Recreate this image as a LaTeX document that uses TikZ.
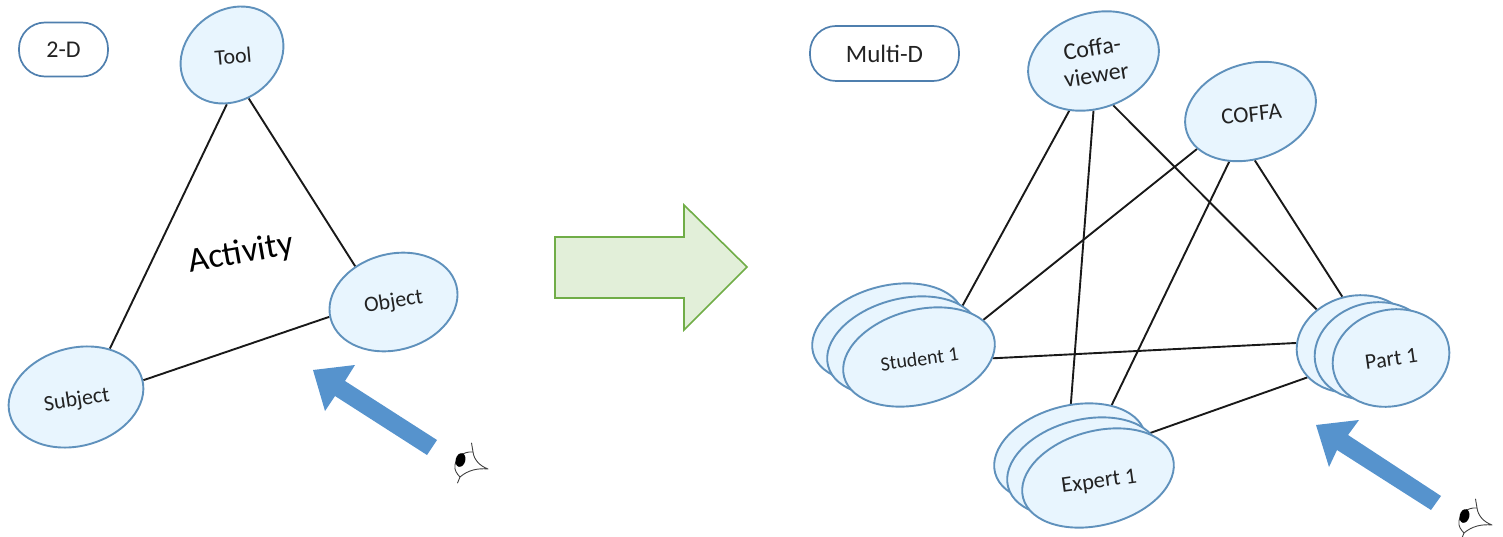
\documentclass[tikz,border=0pt]{standalone}
\usepackage{fontspec}
\setmainfont{Carlito}
\usetikzlibrary{shapes.geometric,backgrounds}
\definecolor{ellfill}{HTML}{E8F5FE}
\definecolor{ellline}{HTML}{5F91BC}
\definecolor{arrowblue}{HTML}{5693CD}
\definecolor{arrowgreen}{HTML}{E2EFD9}
\definecolor{arrowgreenline}{HTML}{70AD47}
\definecolor{inktext}{HTML}{222222}
\definecolor{tagline}{HTML}{4F7FAE}
\newcommand{\fsz}[1]{\fontsize{#1}{#1}\selectfont}
\newcommand{\tilt}[3]{\raisebox{#2}[\height][\depth]{\rotatebox{#1}{#3}}}
\tikzset{
  oval/.style={ellipse,draw=ellline,fill=ellfill,line width=1.9pt,inner sep=0pt,text=inktext,font=\fsz{22}},
  tag/.style={draw=tagline,line width=1.7pt,text=inktext,inner sep=0pt},
  link/.style={black!90,line width=1.9pt},
  blockarrow/.style={fill=arrowblue,draw=none},
  biglabel/.style={inner sep=0pt,text=black,font=\fsz{35}},
  eyeline/.style={black!75,line width=0.9pt,line cap=round,line join=round},
  eyepic/.pic={
    \draw[eyeline] (473,452) .. controls (463,451) and (456,458) .. (455,465) .. controls (454,470) and (457,474) .. (460,477) -- (457.5,483);
    \draw[eyeline] (471.5,443) -- (473,452) .. controls (474,460) and (480,466) .. (488,469) .. controls (478,468) and (468,470) .. (460,477);
    \fill[black] (460.5,460) ellipse [x radius=4.8pt,y radius=7pt,rotate=-15];
  }
}
\begin{document}
\begin{tikzpicture}[x=1pt,y=-1pt]
\useasboundingbox (0,0) rectangle (1503,537);
% left triangle
\node[oval,minimum width=109pt,minimum height=90pt,rotate=36] (tool) at (232,55) {\tilt{-31}{-2pt}{Tool}};
\node[oval,minimum width=130pt,minimum height=96pt,rotate=15] (object) at (393.5,302) {\tilt{-6}{0pt}{Object}};
\node[oval,minimum width=137pt,minimum height=98pt,rotate=15] (subject) at (76,397) {\tilt{-6}{-3.5pt}{Subject}};
\node[biglabel,rotate=10] (activity) at (241,254) {Activity};
\node[tag,rounded corners=26pt,minimum width=89pt,minimum height=54pt,font=\fsz{24}] (twod) at (63.5,49.5) {2-D};
\node[tag,rounded corners=26pt,minimum width=149pt,minimum height=55pt,font=\fsz{25}] (multid) at (884.5,53.5) {Multi-D};
% right top
\node[oval,minimum width=134pt,minimum height=95pt,rotate=18,font=\fsz{24}] (coffaviewer) at (1093.5,61) {\tilt{-9}{-4pt}{\begin{tabular}{@{}c@{}}Coffa-\\[3pt]viewer\end{tabular}}};
\node[oval,minimum width=134pt,minimum height=95pt,rotate=18,font=\fsz{23}] (coffa) at (1250.5,111.5) {\tilt{-12}{-3pt}{COFFA}};
% stacks
\node[oval,minimum width=155pt,minimum height=94pt,rotate=15] (studentc) at (888,333) {};
\node[oval,minimum width=155pt,minimum height=94pt,rotate=15] (studentb) at (903,346) {};
\node[oval,minimum width=155pt,minimum height=94pt,rotate=15,font=\fsz{20}] (student) at (919,357) {\tilt{-7}{-2pt}{Student 1}};
\node[oval,minimum width=155pt,minimum height=94pt,rotate=15] (expertc) at (1070,453) {};
\node[oval,minimum width=155pt,minimum height=94pt,rotate=15] (expertb) at (1083,467) {};
\node[oval,minimum width=155pt,minimum height=94pt,rotate=15,font=\fsz{22.5}] (expert) at (1098,478) {\tilt{-7}{-4.5pt}{Expert 1}};
\node[oval,minimum width=118pt,minimum height=96pt,rotate=15] (partc) at (1355,344) {};
\node[oval,minimum width=118pt,minimum height=96pt,rotate=15] (partb) at (1373,351) {};
\node[oval,minimum width=118pt,minimum height=96pt,rotate=15] (part) at (1391,358) {\tilt{-7}{-1pt}{Part 1}};
\begin{scope}[on background layer]
\draw[link] (tool.228) -- (subject.40);
\draw[link] (tool.255) -- (object.122);
\draw[link] (subject.359) -- (object.178);
\draw[link] (coffaviewer.226) -- (student.34);
\draw[link] (coffaviewer.252) -- (expertc.74);
\draw[link] (coffaviewer.276) -- (partc.123);
\draw[link] (coffa.197) -- (student.15);
\draw[link] (coffa.229) -- (expertc.34);
\draw[link] (coffa.257) -- (partc.90);
\draw[link] (student.344) -- (partc.164);
\draw[link] (expert.26) -- (partc.200);
\end{scope}
% big arrow
\draw[fill=arrowgreen,draw=arrowgreenline,line width=1.6pt,line join=miter] (555,237) -- (684,237) -- (684,205) -- (747,267) -- (684,330) -- (684,298) -- (555,298) -- cycle;
% viewing arrows
\fill[blockarrow] (313,370) -- (355,365) -- (345,381) -- (437,440) -- (427,455) -- (335,396) -- (325,411) -- cycle;
\fill[blockarrow] (1316,425) -- (1359,420) -- (1348,435) -- (1441,496) -- (1431,510) -- (1337,450) -- (1329,467) -- cycle;
% eyes
\pic at (0,0) {eyepic};
\begin{scope}
\clip (0,0) rectangle (1503,537);
\pic at (1004,56) {eyepic};
\end{scope}
\end{tikzpicture}
\end{document}
